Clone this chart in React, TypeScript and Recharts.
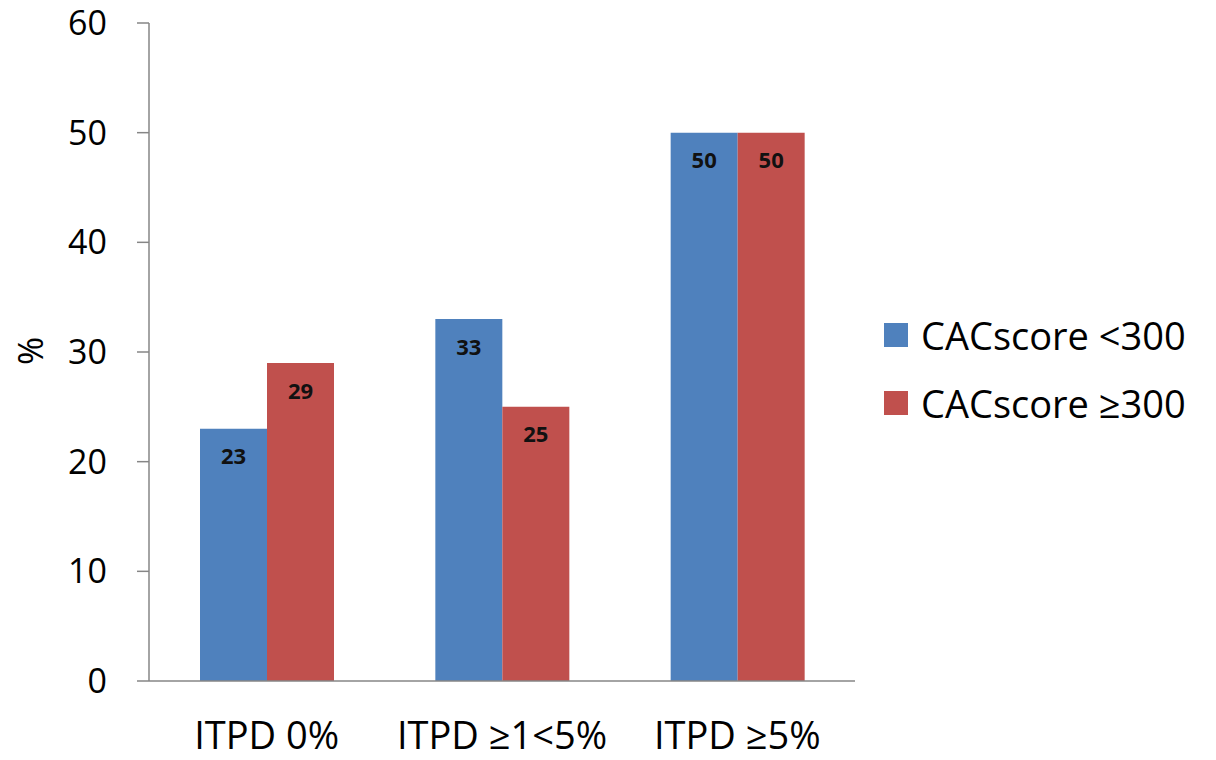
import { BarChart, Bar, XAxis, YAxis, LabelList, Label } from 'recharts';

const categories = ['ITPD 0%', 'ITPD ≥1<5%', 'ITPD ≥5%'];
const scoreBelow300 = [23, 33, 50];
const scoreAbove300 = [29, 25, 50];
const yTicks = [0, 10, 20, 30, 40, 50, 60];

const series = [
    { key: 'below', name: 'CACscore <300', color: '#4F81BD', values: scoreBelow300 },
    { key: 'above', name: 'CACscore ≥300', color: '#C0504D', values: scoreAbove300 }
];

const chartData = categories.map((name, i) => ({
    name,
    below: scoreBelow300[i],
    above: scoreAbove300[i]
}));

const font = '"Open Sans", "DejaVu Sans", sans-serif';
const axisColor = '#868686';

const PercentLabel = () => (
    <text
        x={30}
        y={351}
        transform="rotate(-90 30 351)"
        textAnchor="middle"
        dominantBaseline="central"
        fontFamily={font}
        fontSize={34}
        fill="#000"
    >
        %
    </text>
);

export default function App() {
    return (
        <div style={{ position: 'absolute', left: 0, top: 0, width: 1216, height: 760, background: '#fff' }}>
            <BarChart
                width={1216}
                height={760}
                data={chartData}
                margin={{ top: 23, right: 361, bottom: 0, left: 0 }}
                barSize={67}
                barGap={0}
            >
                <XAxis
                    dataKey="name"
                    height={79}
                    tickLine={false}
                    tickSize={0}
                    tickMargin={41}
                    axisLine={{ stroke: axisColor, strokeWidth: 1.5 }}
                    tick={{ fontFamily: font, fontSize: 38, fill: '#000' }}
                    interval={0}
                />
                <YAxis
                    width={149}
                    domain={[0, 60]}
                    ticks={yTicks}
                    interval={0}
                    tickSize={12}
                    tickMargin={30}
                    axisLine={{ stroke: axisColor, strokeWidth: 1.5 }}
                    tickLine={{ stroke: axisColor, strokeWidth: 1.5 }}
                    tick={{ fontFamily: font, fontSize: 34, fill: '#000' }}
                >
                    <Label content={<PercentLabel />} />
                </YAxis>
                {series.map((s) => (
                    <Bar key={s.key} dataKey={s.key} name={s.name} fill={s.color} isAnimationActive={false}>
                        <LabelList
                            dataKey={s.key}
                            position="insideTop"
                            offset={20}
                            fill="#111"
                            fontFamily={font}
                            fontSize={22}
                            fontWeight="bold"
                        />
                    </Bar>
                ))}
            </BarChart>
            <div style={{ position: 'absolute', left: 884, top: 301, fontFamily: font, fontSize: 38, color: '#000' }}>
                {series.map((s) => (
                    <div key={s.key} style={{ display: 'flex', alignItems: 'center', height: 68 }}>
                        <span style={{ display: 'inline-block', width: 24, height: 24, background: s.color, marginRight: 13 }} />
                        <span>{s.name}</span>
                    </div>
                ))}
            </div>
        </div>
    );
}
